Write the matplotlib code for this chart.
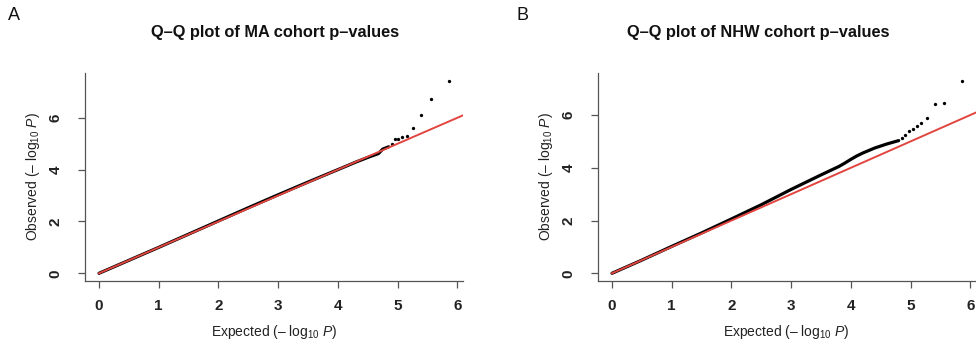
import matplotlib
matplotlib.use("Agg")
import matplotlib.pyplot as plt

plt.rcParams['font.family'] = ['Liberation Sans', 'DejaVu Sans']
plt.rcParams['mathtext.fontset'] = 'custom'
plt.rcParams['mathtext.rm'] = 'Liberation Sans'
plt.rcParams['mathtext.it'] = 'Liberation Sans:italic'
plt.rcParams['mathtext.bf'] = 'Liberation Sans:bold'

# ---- data ----
a_band_x = [0, 0.5, 1, 1.5, 2, 2.5, 3, 3.5, 4, 4.3, 4.5, 4.68, 4.75, 4.85]
a_band_y = [0, 0.5, 1.0, 1.51, 2.02, 2.53, 3.03, 3.52, 4.0, 4.29, 4.47, 4.62, 4.79, 4.88]
a_tail_x = [4.91, 4.96, 5.01, 5.08, 5.15, 5.26, 5.39, 5.56, 5.86]
a_tail_y = [4.97, 5.17, 5.20, 5.24, 5.30, 5.61, 6.11, 6.71, 7.43]

b_band_x = [0, 0.5, 1, 1.5, 2, 2.5, 3, 3.5, 3.8, 3.9, 4.0, 4.1, 4.2, 4.4, 4.6, 4.8]
b_band_y = [0, 0.5, 1.02, 1.53, 2.06, 2.6, 3.18, 3.73, 4.05, 4.18, 4.32, 4.45, 4.56, 4.75, 4.9, 5.03]
b_tail_x = [4.85, 4.91, 4.97, 5.04, 5.10, 5.17, 5.27, 5.40, 5.56, 5.86]
b_tail_y = [5.13, 5.25, 5.38, 5.47, 5.57, 5.68, 5.87, 6.42, 6.44, 7.30]

x_ticks = [0, 1, 2, 3, 4, 5, 6]
y_ticks = [0, 2, 4, 6]

titles = ["Q\u2013Q plot of MA cohort p\u2013values", "Q\u2013Q plot of NHW cohort p\u2013values"]
letters = ["A", "B"]
xlabel = "Expected (\u2013 log$_{10}$ $\\it{P}$)"
ylabel = "Observed (\u2013 log$_{10}$ $\\it{P}$)"

W, H = 976, 344
fig = plt.figure(figsize=(W / 100, H / 100), dpi=100)

panels = [
    dict(left=85, bx=a_band_x, by=a_band_y, tx=a_tail_x, ty=a_tail_y,
         title_x=275, letter_x=8, xlab_x=274),
    dict(left=598, bx=b_band_x, by=b_band_y, tx=b_tail_x, ty=b_tail_y,
         title_x=758, letter_x=517, xlab_x=786),
]

ax_w, top_px, bot_px = 378, 73, 281
red = '#e2453f'
spine_c = '#555555'

for p, title, letter in zip(panels, titles, letters):
    ax = fig.add_axes([p['left'] / W, 1 - bot_px / H, ax_w / W, (bot_px - top_px) / H])
    allx = p['bx'] + p['tx']
    ally = p['by'] + p['ty']
    xmax, ymax = max(allx), max(ally)
    ax.set_xlim(-0.04 * xmax, xmax * 1.04)
    ax.set_ylim(-0.04 * ymax, ymax * 1.04)
    ax.plot(p['bx'], p['by'], color='black', lw=2.3, solid_capstyle='round', zorder=2)
    ax.plot(p['tx'], p['ty'], 'o', color='black', ms=2.4, mew=0, zorder=2)
    xr = ax.get_xlim()[1]
    ax.plot([0, xr], [0, xr], color=red, lw=1.4, zorder=3)

    for s in ['top', 'right']:
        ax.spines[s].set_visible(False)
    for s in ['left', 'bottom']:
        ax.spines[s].set_color(spine_c)
        ax.spines[s].set_linewidth(0.9)
    ax.set_xticks(x_ticks)
    ax.set_yticks(y_ticks)
    ax.set_xticklabels([str(t) for t in x_ticks], fontweight='bold', fontsize=11)
    ax.set_yticklabels([str(t) for t in y_ticks], fontweight='bold', fontsize=11,
                       rotation=90, va='center')
    ax.tick_params(axis='both', length=5, width=0.9, color=spine_c)
    ax.tick_params(axis='x', pad=8)
    ax.tick_params(axis='y', pad=11)
    ax.tick_params(labelcolor='#222222')

    fig.text(p['xlab_x'] / W, 1 - 332 / H, xlabel, ha='center', va='center', fontsize=10,
             color='#222222')
    fig.text((p['left'] - 52) / W, 1 - 177 / H, ylabel, ha='center', va='center',
             fontsize=10, rotation=90, color='#222222')
    fig.text(p['title_x'] / W, 1 - 32 / H, title, ha='center', va='center',
             fontsize=11.8, fontweight='bold', color='#111111')
    fig.text(p['letter_x'] / W, 1 - 16 / H, letter, ha='left', va='center',
             fontsize=13, color='#111111')

fig.savefig("out.png", dpi=100)
